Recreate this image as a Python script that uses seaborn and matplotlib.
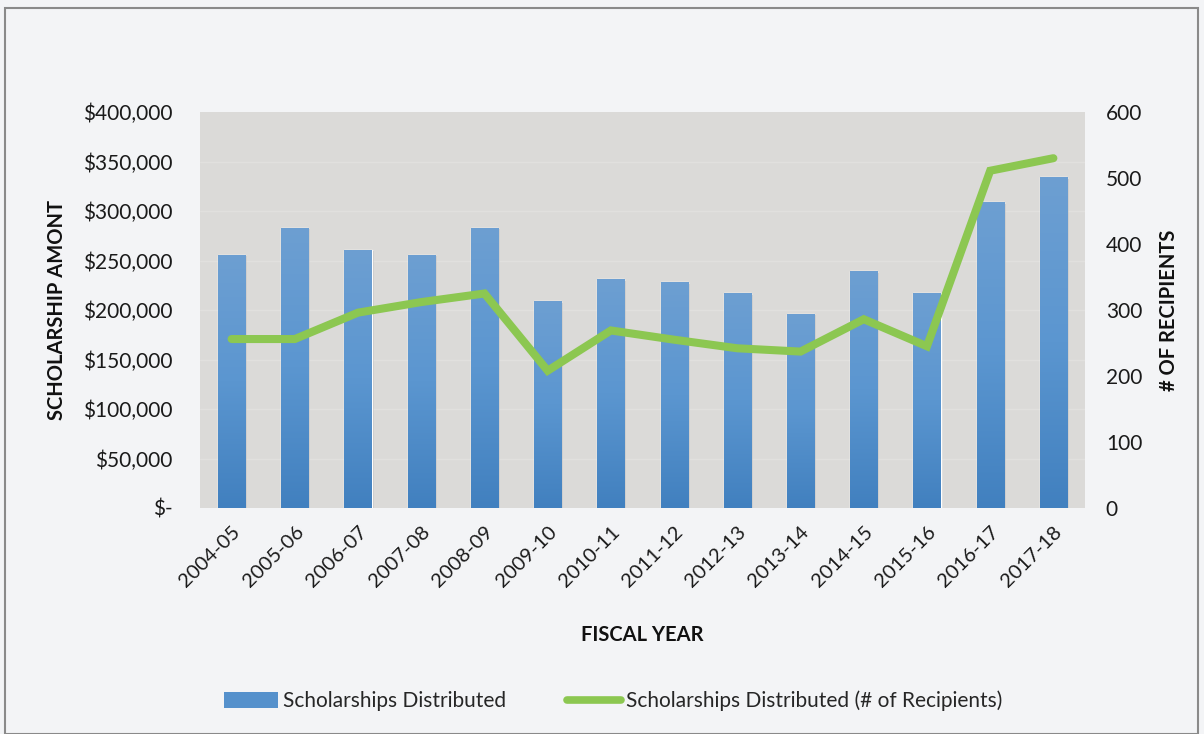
import numpy as np
import pandas as pd
import matplotlib
matplotlib.use("Agg")
import matplotlib.pyplot as plt
import seaborn as sns
from matplotlib.patches import Patch, Rectangle
from matplotlib.lines import Line2D
from matplotlib.colors import LinearSegmentedColormap

fiscal_years = ["2004-05", "2005-06", "2006-07", "2007-08", "2008-09", "2009-10", "2010-11",
                "2011-12", "2012-13", "2013-14", "2014-15", "2015-16", "2016-17", "2017-18"]
amounts = [256000, 283000, 261000, 256000, 283000, 209000, 231000,
           228000, 217000, 196000, 239000, 217000, 309000, 334000]
recipients = [256, 256, 296, 312, 325, 208, 269, 255, 242, 237, 286, 245, 511, 530]

left_ticks = [0, 50000, 100000, 150000, 200000, 250000, 300000, 350000, 400000]
left_labels = ["$-", "$50,000", "$100,000", "$150,000", "$200,000", "$250,000",
               "$300,000", "$350,000", "$400,000"]
right_ticks = [0, 100, 200, 300, 400, 500, 600]

df = pd.DataFrame({"year": fiscal_years, "amount": amounts, "recipients": recipients})

sns.set_theme(style="white")
plt.rcParams["font.family"] = ["Lato", "DejaVu Sans"]

BG = "#f3f4f6"
TXT = "#1a1a1a"
fig = plt.figure(figsize=(12.04, 7.34), dpi=100, facecolor=BG)
ax = fig.add_axes([200/1204, 1-508/734, 885/1204, 396/734])
ax.set_facecolor("#dbdad8")

sns.barplot(data=df, x="year", y="amount", ax=ax, color="#5591cc", width=0.43,
            saturation=1, zorder=3)

# vertical gradient on bars
cmap = LinearSegmentedColormap.from_list("bars", ["#4180bf", "#5b96d0", "#6d9fd2"])
grad = np.linspace(0, 1, 256).reshape(-1, 1)
for p in ax.patches:
    x0, y0 = p.get_x(), p.get_y()
    w, h = p.get_width(), p.get_height()
    sh = Rectangle((x0 + 0.03, y0), w, h - 1500, facecolor="#9a9a9a", alpha=0.35,
                   edgecolor="none", zorder=2)
    ax.add_patch(sh)
    im = ax.imshow(grad, cmap=cmap, aspect="auto", origin="lower",
                   extent=[x0, x0 + w, y0, y0 + h], zorder=3.5)
    im.set_clip_path(p)

ax.set_xlim(-0.5, len(fiscal_years) - 0.5)
ax.set_ylim(0, 400000)
ax.set_yticks(left_ticks)
ax.set_yticklabels(left_labels)
for t in left_ticks[1:-1]:
    ax.axhline(t, color="#e1e0de", lw=1, zorder=1)
for s in ax.spines.values():
    s.set_visible(False)
ax.tick_params(axis="y", length=0, pad=20, labelsize=15, colors=TXT)
ax.tick_params(axis="x", length=0, pad=11, labelsize=14.5, colors=TXT)
plt.setp(ax.get_xticklabels(), rotation=45, ha="right", rotation_mode="anchor")
ax.set_xlabel("FISCAL YEAR", fontsize=14.5, fontweight="bold", labelpad=25, color="#111111")
ax.set_ylabel("SCHOLARSHIP AMONT", fontsize=14.5, fontweight="bold", labelpad=11, color="#111111")

ax2 = ax.twinx()
sns.lineplot(data=df, x="year", y="recipients", ax=ax2, color="#8cc751", lw=5.8,
             solid_capstyle="round", solid_joinstyle="miter", zorder=5, sort=False)
ax2.set_ylim(0, 600)
ax2.set_yticks(right_ticks)
ax2.set_ylabel("# OF RECIPIENTS", fontsize=14.5, fontweight="bold", labelpad=12, color="#111111")
for s in ax2.spines.values():
    s.set_visible(False)
ax2.tick_params(axis="y", length=0, pad=15, labelsize=15, colors=TXT)
ax.set_xlim(-0.5, len(fiscal_years) - 0.5)

handles = [Patch(facecolor="#5591cc", edgecolor="none"),
           Line2D([0], [0], color="#8cc751", lw=5.5, solid_capstyle="round")]
fig.legend(handles, ["Scholarships Distributed", "Scholarships Distributed (# of Recipients)"],
           loc="center", bbox_to_anchor=(613/1204, 1-701/734), ncol=2, frameon=False,
           fontsize=15, handlelength=2.6, handleheight=0.75, handletextpad=0.25,
           columnspacing=2.9)

fig.add_artist(Rectangle((5/1204, 0), 1193/1204, 1-8/734, transform=fig.transFigure,
                         fill=False, edgecolor="#8a8a8a", lw=1.5))

fig.savefig("out.png", dpi=100, facecolor=BG)
